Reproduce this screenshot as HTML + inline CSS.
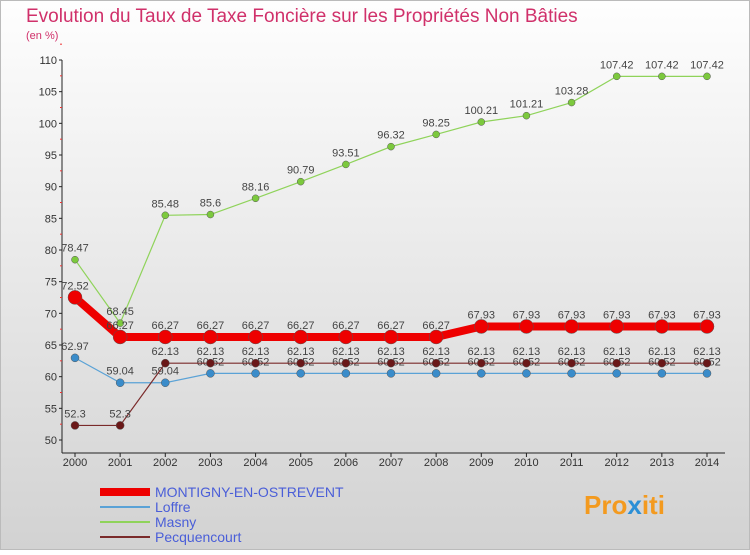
<!DOCTYPE html>
<html><head><meta charset="utf-8"><style>
body{margin:0;width:750px;height:550px;overflow:hidden;font-family:"Liberation Sans",sans-serif}
svg text{font-family:"Liberation Sans",sans-serif}
</style></head><body>
<svg width="750" height="550">
<defs><linearGradient id="bg" x1="0" y1="0" x2="0" y2="1"><stop offset="0" stop-color="#fefefe"/><stop offset="1" stop-color="#d2d2d2"/></linearGradient></defs>
<rect x="0.5" y="0.5" width="749" height="549" fill="url(#bg)" stroke="#bbb"/>
<text x="26" y="22" font-size="19" fill="#d0306a">Evolution du Taux de Taxe Foncière sur les Propriétés Non Bâties</text>
<text x="26" y="39" font-size="11" fill="#d0306a">(en %)</text>
<g id="axes"></g><g id="series"></g><g id="legend"></g>
<text x="584" y="514" font-size="26" font-weight="bold" fill="#f39a1f">Pro<tspan fill="#2b8fd6">x</tspan>iti</text>
</svg>
<script>
const years=[2000,2001,2002,2003,2004,2005,2006,2007,2008,2009,2010,2011,2012,2013,2014];
const yTicks=[50,55,60,65,70,75,80,85,90,95,100,105,110];
const montigny=[72.52,66.27,66.27,66.27,66.27,66.27,66.27,66.27,66.27,67.93,67.93,67.93,67.93,67.93,67.93];
const loffre=[62.97,59.04,59.04,60.52,60.52,60.52,60.52,60.52,60.52,60.52,60.52,60.52,60.52,60.52,60.52];
const masny=[78.47,68.45,85.48,85.6,88.16,90.79,93.51,96.32,98.25,100.21,101.21,103.28,107.42,107.42,107.42];
const pecq=[52.3,52.3,62.13,62.13,62.13,62.13,62.13,62.13,62.13,62.13,62.13,62.13,62.13,62.13,62.13];
const NS="http://www.w3.org/2000/svg";
const X=i=>75+i*(632/14), Y=v=>440-(v-50)*380/60;
function mk(p,t,a){const e=document.createElementNS(NS,t);for(const k in a)e.setAttribute(k,a[k]);p.appendChild(e);return e;}
const ax=document.getElementById('axes');
let l=mk(ax,'line',{x1:62,y1:60,x2:62,y2:453,stroke:'#222'});


l=mk(ax,'line',{x1:62,y1:453,x2:725,y2:453,stroke:'#222'});


yTicks.forEach(v=>{
 const t=mk(ax,'text',{x:57,y:Y(v)+4,'font-size':11,'text-anchor':'end',fill:'#333'});t.textContent=v;
 
 
 mk(ax,'line',{x1:59,y1:Y(v),x2:62,y2:Y(v),stroke:'#222'});
 mk(ax,'line',{x1:60,y1:Y(v+2.5),x2:62,y2:Y(v+2.5),stroke:'#e33'});
});
years.forEach((y,i)=>{
 const t=mk(ax,'text',{x:X(i),y:466,'font-size':11,'text-anchor':'middle',fill:'#333'});t.textContent=y;
 
 
 mk(ax,'line',{x1:X(i),y1:453,x2:X(i),y2:457,stroke:'#222'});
});
const sg=document.getElementById('series');
function draw(name,vals,color,w,r,dot){
 const g=mk(sg,'g',{});
 
 
 const pl=mk(g,'polyline',{points:vals.map((v,i)=>X(i)+','+Y(v)).join(' '),fill:'none',stroke:color,'stroke-width':w,'stroke-linejoin':'round'});
 
 
 vals.forEach((v,i)=>{
  const c=mk(g,'circle',{cx:X(i),cy:Y(v),r:r,fill:dot,stroke:'#555','stroke-width':0.5});
  
  
  const t=mk(g,'text',{x:X(i),y:Y(v)-8,'font-size':11,'text-anchor':'middle',fill:'#444'});t.textContent=v;
  
  
 });
}
draw('masny',masny,'#8fd35a',1.2,3.5,'#7cc93d');
draw('loffre',loffre,'#5aa2d6',1.2,4,'#3a8cca');
draw('pecquencourt',pecq,'#7a2a2a',1.2,4,'#6a1818');
draw('montigny',montigny,'#ee0000',8,7,'#ee0000');
const lg=document.getElementById('legend');
const items=[['MONTIGNY-EN-OSTREVENT','#ee0000',8],['Loffre','#5aa2d6',2],['Masny','#8fd35a',2],['Pecquencourt','#7a2a2a',2]];
items.forEach((it,k)=>{
 const y=492+k*15;
 const g=mk(lg,'g',{});
 
 
 mk(g,'line',{x1:100,y1:y,x2:150,y2:y,stroke:it[1],'stroke-width':it[2]});
 const t=mk(g,'text',{x:155,y:y+5,'font-size':14,fill:'#4a5ed8'});t.textContent=it[0];
});
</script>
</body></html>
